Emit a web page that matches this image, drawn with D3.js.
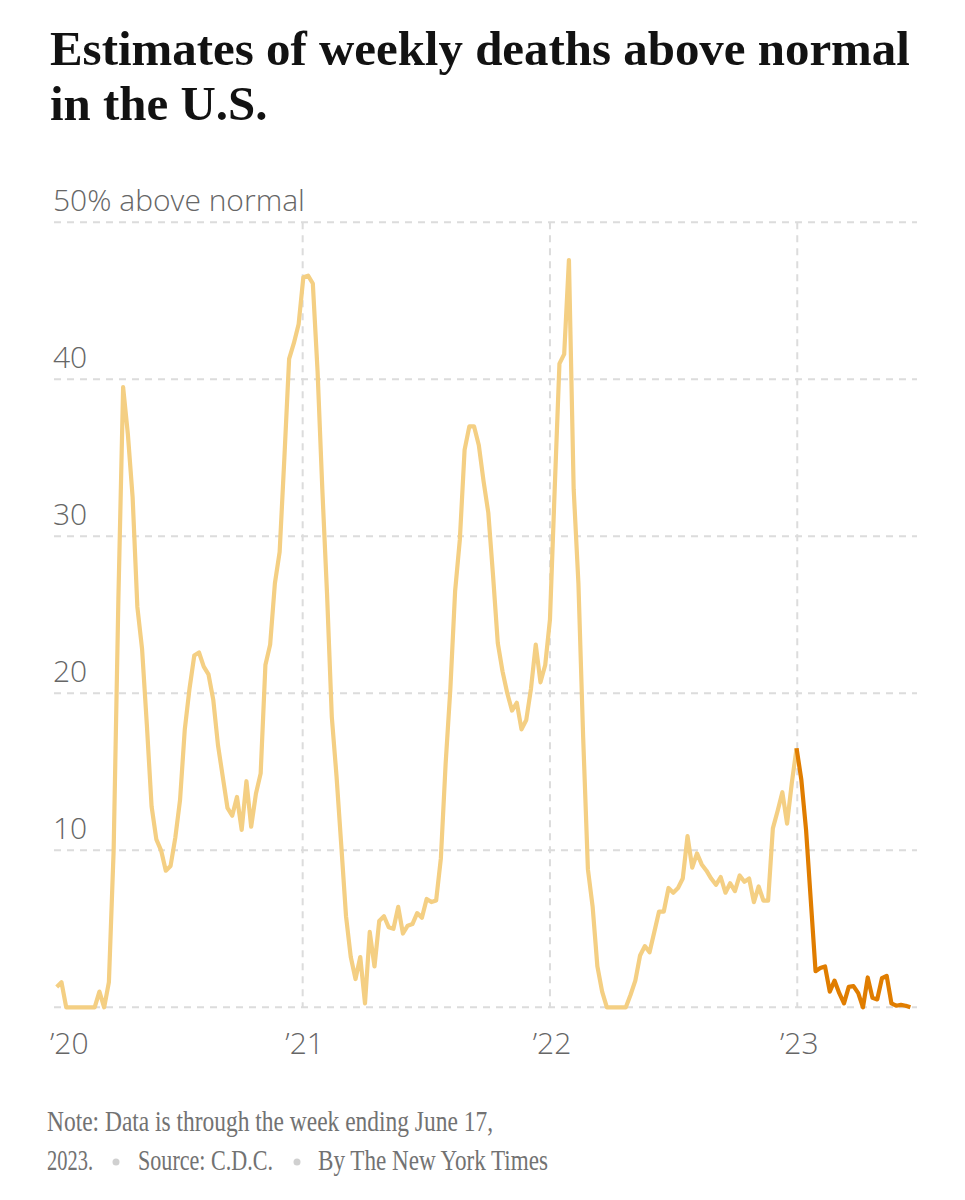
<!doctype html>
<html>
  <head>
    <meta charset="utf-8">
    <title>weekly deaths above normal</title>
    <script src="https://cdn.jsdelivr.net/npm/d3@7"></script>
    <style>
    body {
      margin: 0;
      background: #fff;
    }
    .title {
      font-family: "Liberation Serif", "DejaVu Serif", serif;
      font-weight: bold;
      fill: #121212;
    }
    .tick-label {
      font-family: "Open Sans", Roboto, sans-serif;
      font-weight: 300;
      font-size: 30px;
      fill: #666;
    }
    .note {
      font-family: "Liberation Serif", "DejaVu Serif", serif;
      font-size: 29px;
      fill: #727272;
    }
    .grid {
      stroke: #dcdcdc;
      stroke-width: 2;
      stroke-dasharray: 7 6;
    }
    </style>
  </head>
  <body>
    <script>
      var w_svg = 965;
      var h_svg = 1200;

      // weekly % above normal (weeks ending Sat, from Jan 4 2020)
      var firstWeek = "2020-01-04";
      var excessPct = [
        1.3, 1.6, 0, 0, 0, 0, 0, 0, 0, 1.0,
        0, 1.6, 10, 26, 39.5, 36.5, 32.5, 25.5, 22.8, 18,
        12.8, 10.7, 10, 8.7, 9.0, 10.8, 13.2, 17.7, 20.3, 22.4,
        22.6, 21.7, 21.2, 19.6, 16.7, 14.7, 12.7, 12.2, 13.4, 11.3,
        14.4, 11.5, 13.6, 14.9, 21.8, 23.1, 27, 29, 35, 41.3,
        42.3, 43.5, 46.5, 46.6, 46.1, 40.5, 33, 26.3, 18.5, 14.7,
        10.3, 5.8, 3.2, 1.8, 3.2, 0.25, 4.8, 2.6, 5.5, 5.8,
        5.1, 5.0, 6.4, 4.7, 5.2, 5.3, 6.0, 5.7, 6.9, 6.7,
        6.8, 9.5, 15.5, 20.3, 26.5, 29.8, 35.5, 37, 37, 35.8,
        33.5, 31.5, 27.5, 23.2, 21.4, 20, 18.9, 19.4, 17.7, 18.3,
        20.3, 23.1, 20.7, 21.8, 24.7, 33, 41, 41.6, 47.6, 33,
        27, 17.2, 8.8, 6.4, 2.6, 1.0, 0, 0, 0, 0,
        0, 0.8, 1.7, 3.3, 3.9, 3.5, 4.8, 6.1, 6.1, 7.6,
        7.3, 7.6, 8.2, 10.9, 8.9, 9.8, 9.1, 8.7, 8.2, 7.8,
        8.3, 7.3, 7.9, 7.4, 8.4, 8.0, 8.2, 6.7, 7.7, 6.8,
        6.8, 11.4, 12.5, 13.7, 11.7, 14.3, 16.5, 14.5, 11.3, 6.8,
        2.3, 2.5, 2.6, 1.0, 1.7, 0.9, 0.25, 1.3, 1.35, 0.9,
        0, 1.9, 0.6, 0.5, 1.85, 2.0, 0.25, 0.1, 0.15, 0.1, 0
      ];
      var highlightFrom = "2022-12-31";

      var yTicks = [0, 10, 20, 30, 40, 50];
      var yTickLabels = ["", "10", "20", "30", "40", "50% above normal"];
      var xTickDates = ["2020-01-01", "2021-01-01", "2022-01-01", "2023-01-01"];
      var xTickLabels = ["\u201920", "\u201921", "\u201922", "\u201923"];

      var titleLines = ["Estimates of weekly deaths above normal", "in the U.S."];
      var noteLine1 = "Note: Data is through the week ending June 17,";
      var noteParts = ["2023.", "Source: C.D.C.", "By The New York Times"];

      var parse = d3.utcParse("%Y-%m-%d");
      var start = parse(firstWeek);
      var data = excessPct.map(function(v, i) {
        return {date: d3.utcDay.offset(start, 7 * i), value: v};
      });
      var cut = parse(highlightFrom);

      var svg = d3.select("body")
                  .append("svg")
                  .attr("width", w_svg)
                  .attr("height", h_svg);

      var x = d3.scaleUtc()
                .domain([parse("2020-01-01"), parse("2023-06-17")])
                .range([54.7, 910.4]);
      var y = d3.scaleLinear()
                .domain([0, 50])
                .range([1007.3, 222.3]);
      var gridLeft = 54, gridRight = 917;

      // title, sized so the first line fills the width
      var title = svg.append("g");
      var t1 = title.append("text").attr("class", "title")
                    .attr("x", 50).attr("y", 65)
                    .style("font-size", "50px").text(titleLines[0]);
      var fs = 50 * 860 / t1.node().getComputedTextLength();
      t1.style("font-size", fs + "px");
      title.append("text").attr("class", "title")
           .attr("x", 50).attr("y", 120)
           .style("font-size", fs + "px").text(titleLines[1]);

      // horizontal grid
      svg.append("g").selectAll("line")
         .data(yTicks)
         .enter().append("line")
         .attr("class", "grid")
         .attr("x1", gridLeft).attr("x2", gridRight)
         .attr("y1", function(d) { return y(d); })
         .attr("y2", function(d) { return y(d); });

      // vertical grid at year starts (not the first one)
      svg.append("g").selectAll("line")
         .data(xTickDates.slice(1))
         .enter().append("line")
         .attr("class", "grid")
         .attr("x1", function(d) { return x(parse(d)); })
         .attr("x2", function(d) { return x(parse(d)); })
         .attr("y1", y(50)).attr("y2", y(0));

      // y labels
      svg.append("g").selectAll("text")
         .data(yTicks)
         .enter().append("text")
         .attr("class", "tick-label")
         .attr("x", 53)
         .attr("y", function(d) { return y(d) - 11; })
         .text(function(d, i) { return yTickLabels[i]; });

      // x labels
      svg.append("g").selectAll("text")
         .data(xTickDates)
         .enter().append("text")
         .attr("class", "tick-label")
         .attr("x", function(d, i) { return i == 0 ? 50 : x(parse(d)) + 2; })
         .attr("y", 1054)
         .attr("text-anchor", function(d, i) { return i == 0 ? "start" : "middle"; })
         .text(function(d, i) { return xTickLabels[i]; });

      var line = d3.line()
                   .x(function(d) { return x(d.date); })
                   .y(function(d) { return y(d.value); });

      var before = data.filter(function(d) { return d.date <= cut; });
      var after = data.filter(function(d) { return d.date >= cut; });

      svg.append("path")
         .datum(before)
         .attr("d", line)
         .attr("fill", "none")
         .attr("stroke", "#f4cf83")
         .attr("stroke-width", 4.2)
         .attr("stroke-linejoin", "round");

      svg.append("path")
         .datum(after)
         .attr("d", line)
         .attr("fill", "none")
         .attr("stroke", "#e07d00")
         .attr("stroke-width", 4.2)
         .attr("stroke-linejoin", "round");

      // note
      svg.append("text").attr("class", "note")
         .attr("x", 47).attr("y", 1131)
         .attr("textLength", 446).attr("lengthAdjust", "spacingAndGlyphs")
         .text(noteLine1);

      var partX = [47, 138, 318];
      var partW = [46, 135, 230];
      svg.append("g").selectAll("text")
         .data(noteParts)
         .enter().append("text")
         .attr("class", "note")
         .attr("x", function(d, i) { return partX[i]; })
         .attr("y", 1170)
         .attr("textLength", function(d, i) { return partW[i]; })
         .attr("lengthAdjust", "spacingAndGlyphs")
         .text(function(d) { return d; });

      svg.append("g").selectAll("circle")
         .data([116, 297])
         .enter().append("circle")
         .attr("cx", function(d) { return d; })
         .attr("cy", 1162)
         .attr("r", 3.5)
         .attr("fill", "#d0d0d0");
    </script>
  </body>
</html>
